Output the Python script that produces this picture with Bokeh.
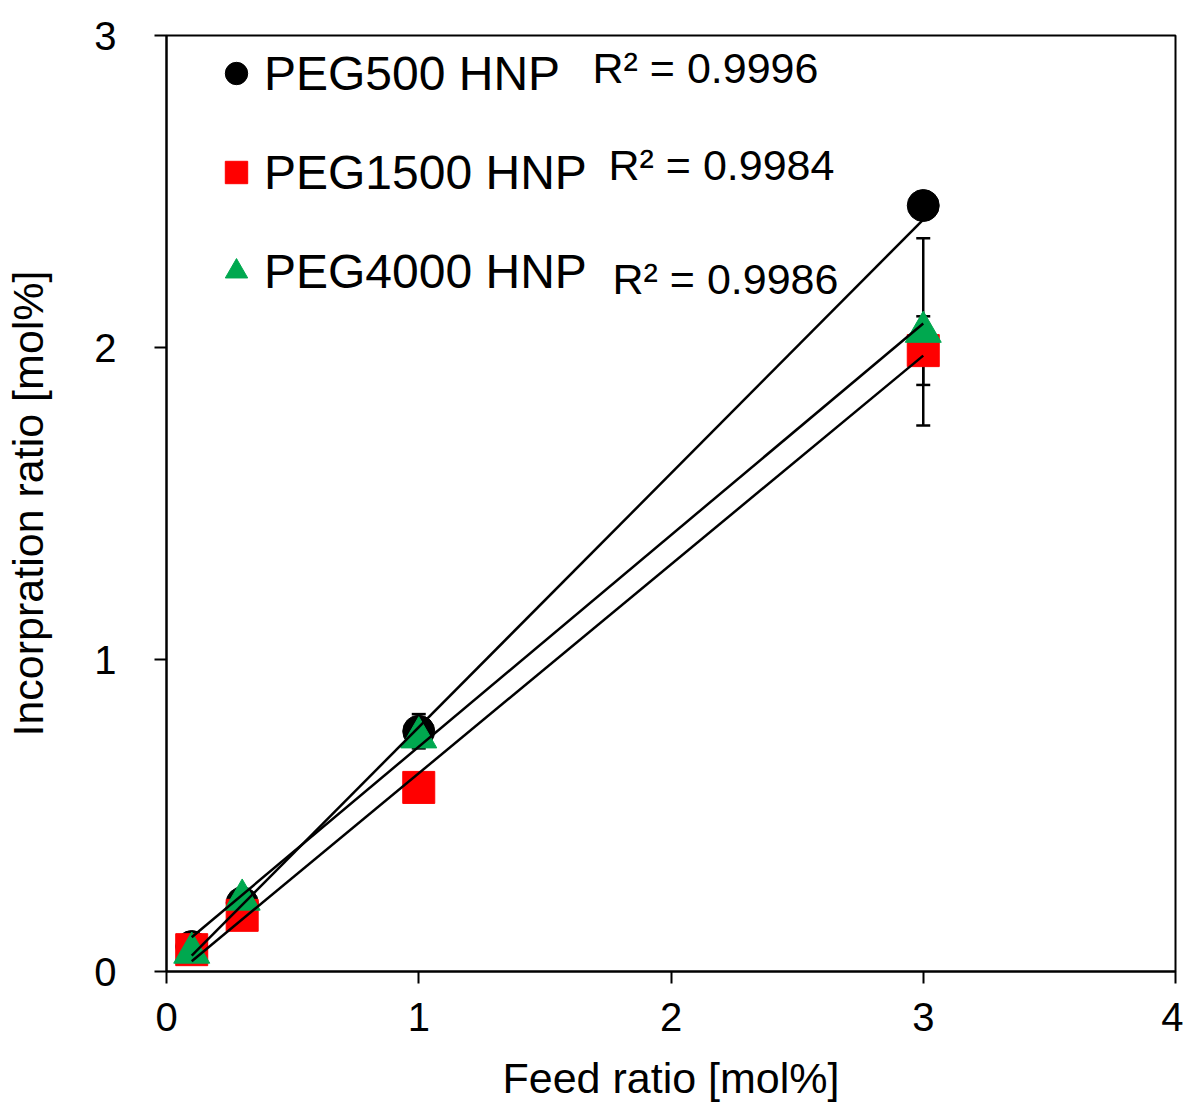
from bokeh.plotting import figure
from bokeh.models import (Range1d, Whisker, ColumnDataSource, Legend, LegendItem,
                          Label, FixedTicker, TeeHead)
from bokeh.embed import file_html
from bokeh.resources import INLINE

# ---- data ----
feed = [0.1, 0.3, 1.0, 3.0]

peg500 = [0.08, 0.22, 0.77, 2.455]
peg500_err = [0.02, 0.02, 0.055, 0.03]

peg1500 = [0.07, 0.18, 0.59, 1.99]
peg1500_err = [0.02, 0.02, 0.03, 0.11]

peg4000 = [0.06, 0.23, 0.75, 2.05]
peg4000_err = [0.02, 0.02, 0.03, 0.30]

trend_x = [0.1, 3.0]
trend_peg500 = [0.051, 2.41]
trend_peg1500 = [0.033, 1.974]
trend_peg4000 = [0.110, 2.077]

series_names = ["PEG500 HNP", "PEG1500 HNP", "PEG4000 HNP"]
r2_labels = ["R\u00b2 = 0.9996", "R\u00b2 = 0.9984", "R\u00b2 = 0.9986"]

x_ticks = [0, 1, 2, 3, 4]
y_ticks = [0, 1, 2, 3]

FONT = "Liberation Sans"

p = figure(width=1183, height=1104, output_backend="svg", toolbar_location=None,
           x_range=Range1d(0, 4), y_range=Range1d(0, 3),
           min_border_left=166, min_border_right=8, min_border_top=35, min_border_bottom=133)

p.background_fill_color = "white"
p.border_fill_color = "white"
p.outline_line_color = "black"
p.outline_line_width = 2
p.grid.visible = False

for ax in (p.xaxis[0], p.yaxis[0]):
    ax.axis_line_width = 2
    ax.axis_line_color = "black"
    ax.major_tick_line_width = 2
    ax.major_tick_line_color = "black"
    ax.major_tick_out = 12
    ax.major_tick_in = 0
    ax.minor_tick_out = 0
    ax.minor_tick_in = 0
    ax.major_label_text_font = FONT
    ax.major_label_text_font_size = "40px"
    ax.major_label_text_color = "black"
    ax.axis_label_text_font = FONT
    ax.axis_label_text_font_size = "43px"
    ax.axis_label_text_font_style = "normal"
    ax.axis_label_text_color = "black"

p.xaxis.ticker = FixedTicker(ticks=x_ticks)
p.yaxis.ticker = FixedTicker(ticks=y_ticks)
p.xaxis.axis_label = "Feed ratio [mol%]"
p.yaxis.axis_label = "Incorpration ratio [mol%]"
p.xaxis.major_label_standoff = 19
p.xaxis.axis_label_standoff = 20
p.yaxis.major_label_standoff = 38
p.yaxis.axis_label_standoff = 39

# error bars
for ys, es, in ((peg500, peg500_err), (peg1500, peg1500_err), (peg4000, peg4000_err)):
    src = ColumnDataSource(dict(x=feed,
                                lower=[y - e for y, e in zip(ys, es)],
                                upper=[y + e for y, e in zip(ys, es)]))
    w = Whisker(base="x", lower="lower", upper="upper", source=src,
                line_color="black", line_width=2.5, level="underlay",
                upper_head=TeeHead(size=14, line_width=2.5, line_color="black"),
                lower_head=TeeHead(size=14, line_width=2.5, line_color="black"))
    p.add_layout(w)

# markers
r1 = p.scatter(feed, peg500, marker="circle", size=32, fill_color="black", line_color="black")
r2 = p.scatter(feed, peg1500, marker="square", size=32, fill_color="#ff0000", line_color="#ff0000")
r3 = p.scatter(feed, peg4000, marker="triangle", size=36, fill_color="#00a84f", line_color="#00a84f")

# trend lines
for ty in (trend_peg500, trend_peg1500, trend_peg4000):
    p.line(trend_x, ty, line_color="black", line_width=2.5)

legend = Legend(items=[LegendItem(label=n, renderers=[r]) for n, r in zip(series_names, (r1, r2, r3))],
                location=(42, 670), glyph_width=56, glyph_height=60, spacing=39,
                padding=0, margin=0, label_standoff=0,
                label_text_font=FONT, label_text_font_size="48px", label_text_color="black",
                background_fill_alpha=0, border_line_alpha=0)
p.add_layout(legend)

r2_pos = [(426, 904), (442, 807), (446, 693)]
for txt, (sx, sy) in zip(r2_labels, r2_pos):
    p.add_layout(Label(x=sx, y=sy, x_units="screen", y_units="screen", text=txt,
                       text_font=FONT, text_font_size="43px", text_color="black",
                       text_baseline="alphabetic"))

open("out.html", "w").write(file_html(p, INLINE))
